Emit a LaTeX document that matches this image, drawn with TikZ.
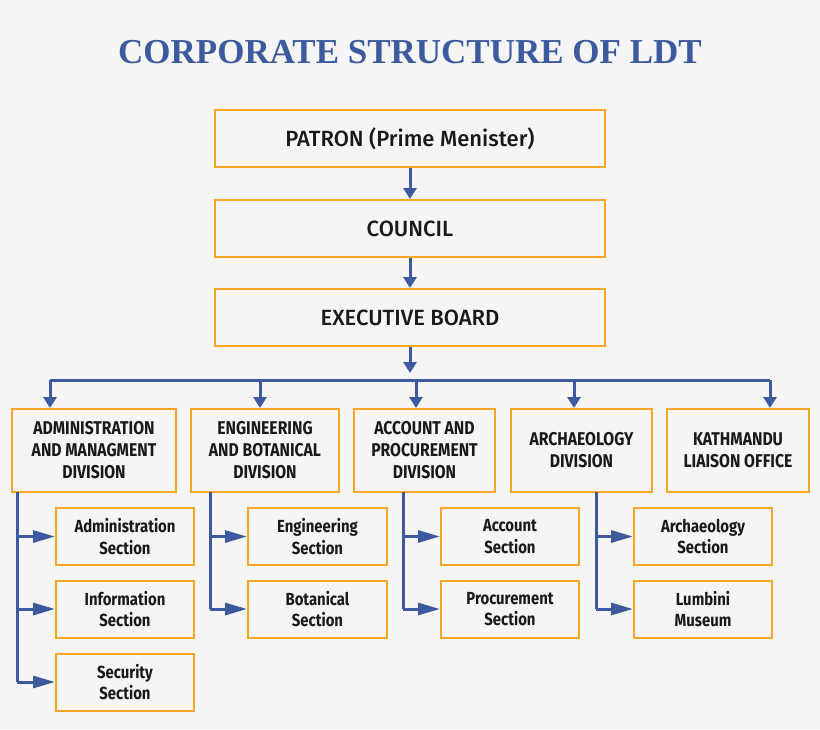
\documentclass[tikz,border=0pt]{standalone}
\usepackage{fontspec}
\setmainfont{Fira Sans}
\newfontfamily\titlefont{Liberation Serif}
\usetikzlibrary{arrows.meta}
\definecolor{bg}{HTML}{F5F5F5}
\definecolor{org}{HTML}{F5A623}
\definecolor{blu}{HTML}{3D5A9E}
\begin{document}
\begin{tikzpicture}[x=1pt,y=-1pt,
 box/.style={draw=org,line width=2pt,fill=bg,inner sep=0pt,align=center,text=black!90},
 top/.style={box,minimum width=390pt,minimum height=57pt,font=\fontsize{22}{24}\selectfont\fontspec{Fira Sans Medium}},
 div/.style={box,minimum height=83pt,font=\fontsize{18.5}{22}\selectfont\bfseries\addfontfeatures{FakeStretch=0.85}},
 sec/.style={box,minimum width=138pt,minimum height=57pt,font=\fontsize{17.5}{21.5}\selectfont\bfseries\addfontfeatures{FakeStretch=0.85}},
 ar/.style={draw=blu,line width=3pt,-{Triangle[length=11pt,width=13pt]}},
 sar/.style={draw=blu,line width=3pt,-{Triangle[length=22pt,width=12pt]}},
 ln/.style={draw=blu,line width=3pt}]
\fill[bg] (0,0) rectangle (820,729);
\node[font=\titlefont\bfseries\fontsize{35}{38}\selectfont,text=blu] (title) at (410,52) {CORPORATE STRUCTURE OF LDT};
\node[top] (patron) at (410,138.5) {PATRON (Prime Menister)};
\node[top] (council) at (410,228.5) {COUNCIL};
\node[top] (exec) at (410,317.5) {EXECUTIVE BOARD};
\draw[ar] (patron) -- (council);
\draw[ar] (council) -- (exec);
\node[div,minimum width=164pt] (d1) at (94,450.5) {ADMINISTRATION\\AND MANAGMENT\\DIVISION};
\node[div,minimum width=148pt] (d2) at (265,450.5) {ENGINEERING\\AND BOTANICAL\\DIVISION};
\node[div,minimum width=141pt] (d3) at (424.5,450.5) {ACCOUNT AND\\PROCUREMENT\\DIVISION};
\node[div,minimum width=141pt] (d4) at (581.5,450.5) {ARCHAEOLOGY\\DIVISION};
\node[div,minimum width=142pt] (d5) at (738,450.5) {KATHMANDU\\LIAISON OFFICE};
\coordinate (bl) at (50,380);
\coordinate (br) at (770,380);
\coordinate (b2) at (260,380);
\coordinate (b3) at (416,380);
\coordinate (b4) at (574,380);
\draw[ar] (exec) -- (410,373);
\draw[ln] (bl) -- (br);
\draw[ar] (bl) -- (bl |- d1.north);
\draw[ar] (b2) -- (b2 |- d2.north);
\draw[ar] (b3) -- (b3 |- d3.north);
\draw[ar] (b4) -- (b4 |- d4.north);
\draw[ar] (br) -- (br |- d5.north);
\node[sec] (s11) at (125,536.5) {Administration\\Section};
\node[sec] (s12) at (125,609) {Information\\Section};
\node[sec] (s13) at (125,682) {Security\\Section};
\node[sec,minimum width=139pt] (s21) at (317.5,536.5) {Engineering\\Section};
\node[sec,minimum width=139pt] (s22) at (317.5,609) {Botanical\\Section};
\node[sec] (s31) at (510,536.5) {Account\\Section};
\node[sec] (s32) at (510,609) {Procurement\\Section};
\node[sec] (s41) at (703,536.5) {Archaeology\\Section};
\node[sec] (s42) at (703,609) {Lumbini\\Museum};
\draw[ln] (17,492) -- (17,682);
\draw[sar] (17,682) -- (s13.west);
\draw[sar] (17,609) -- (s12.west);
\draw[sar] (17,536.5) -- (s11.west);
\draw[ln] (210,492) -- (210,609);
\draw[sar] (210,609) -- (s22.west);
\draw[sar] (210,536.5) -- (s21.west);
\draw[ln] (403,492) -- (403,609);
\draw[sar] (403,609) -- (s32.west);
\draw[sar] (403,536.5) -- (s31.west);
\draw[ln] (596,492) -- (596,609);
\draw[sar] (596,609) -- (s42.west);
\draw[sar] (596,536.5) -- (s41.west);
\end{tikzpicture}
\end{document}
